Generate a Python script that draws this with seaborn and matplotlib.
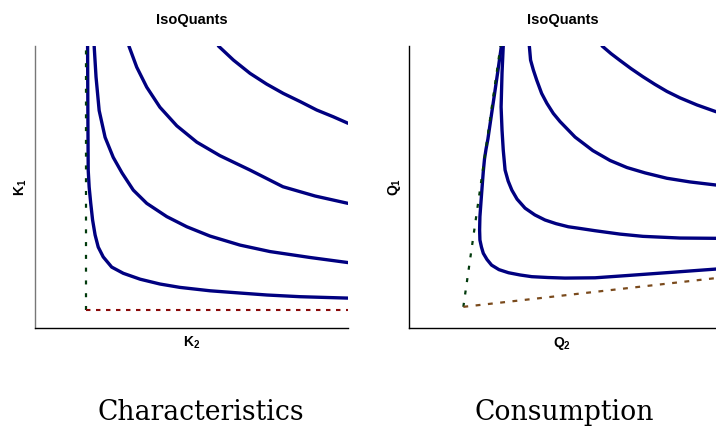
"""
IsoQuants: characteristics space vs consumption space
"""

import matplotlib
matplotlib.use("Agg")
import matplotlib.pyplot as plt
import seaborn as sns


# characteristics panel (K2 on x, K1 on y), axes run 0..10
char_a_x = [1.68, 1.69, 1.70, 1.73, 1.78, 1.84, 1.92, 2.02, 2.18, 2.45, 2.82, 3.36, 3.99,
            4.63, 5.59, 6.55, 7.41, 8.47, 10.0]
char_a_y = [10.0, 7.38, 5.60, 5.00, 4.43, 3.83, 3.30, 2.87, 2.52, 2.16, 1.94, 1.73, 1.56,
            1.44, 1.32, 1.24, 1.17, 1.11, 1.06]
char_b_x = [1.89, 1.95, 2.05, 2.24, 2.50, 2.78, 3.14, 3.57, 4.21, 4.85, 5.59, 6.55, 7.51, 8.79, 10.0]
char_b_y = [10.0, 8.90, 7.71, 6.76, 6.05, 5.50, 4.89, 4.42, 3.95, 3.59, 3.26, 2.94, 2.71, 2.50, 2.32]
char_c_x = [3.00, 3.25, 3.57, 3.99, 4.53, 5.17, 5.91, 6.87, 7.92, 8.95, 10.0]
char_c_y = [10.0, 9.25, 8.54, 7.83, 7.17, 6.59, 6.11, 5.60, 5.01, 4.68, 4.42]
char_d_x = [5.86, 6.34, 6.87, 7.40, 7.93, 8.47, 9.00, 9.53, 10.0]
char_d_y = [10.0, 9.50, 9.03, 8.65, 8.32, 8.03, 7.73, 7.49, 7.26]
char_vert_x = [1.63, 1.63]
char_vert_y = [0.64, 10.0]
char_horiz_x = [1.63, 10.0]
char_horiz_y = [0.64, 0.64]

# consumption panel (Q2 on x, Q1 on y)
cons_a_x = [3.01, 2.90, 2.79, 2.68, 2.57, 2.51, 2.46, 2.42, 2.39, 2.35, 2.31, 2.30, 2.31,
            2.36, 2.42, 2.54, 2.69, 2.93, 3.24, 3.62, 4.00, 4.53, 5.08, 6.06, 7.10, 8.50, 10.0]
cons_a_y = [10.0, 9.15, 8.33, 7.52, 6.70, 6.35, 6.00, 5.55, 5.13, 4.55, 3.95, 3.48, 3.12,
            2.87, 2.65, 2.43, 2.23, 2.07, 1.96, 1.88, 1.82, 1.79, 1.77, 1.78, 1.86, 1.97, 2.09]
cons_b_x = [3.07, 3.03, 3.00, 3.03, 3.07, 3.13, 3.23, 3.35, 3.52, 3.78, 4.10, 4.43, 4.79,
            5.19, 5.57, 6.06, 6.87, 7.62, 8.83, 10.0]
cons_b_y = [10.0, 9.04, 7.84, 7.02, 6.31, 5.60, 5.21, 4.89, 4.57, 4.25, 4.01, 3.83, 3.70,
            3.59, 3.53, 3.45, 3.33, 3.25, 3.19, 3.18]
cons_c_x = [3.92, 3.96, 4.05, 4.16, 4.32, 4.49, 4.70, 4.92, 5.41, 5.99, 6.55, 7.10, 7.69,
            8.40, 9.15, 10.0]
cons_c_y = [10.0, 9.50, 9.15, 8.79, 8.32, 7.97, 7.61, 7.32, 6.77, 6.29, 5.94, 5.69, 5.50,
            5.31, 5.18, 5.07]
cons_d_x = [6.29, 6.58, 6.87, 7.23, 7.62, 8.01, 8.40, 8.83, 9.38, 10.0]
cons_d_y = [10.0, 9.73, 9.49, 9.20, 8.91, 8.64, 8.39, 8.16, 7.91, 7.67]
cons_ray1_x = [1.77, 2.98]
cons_ray1_y = [0.75, 10.0]
cons_ray2_x = [1.77, 10.0]
cons_ray2_y = [0.75, 1.77]

navy = "#000080"

sns.set_style("white")
plt.rcParams["font.family"] = ["Liberation Sans", "DejaVu Sans"]
plt.rcParams["text.color"] = "black"
plt.rcParams["axes.labelcolor"] = "black"
plt.rcParams["mathtext.fontset"] = "custom"
plt.rcParams["mathtext.bf"] = "Liberation Sans:bold"
plt.rcParams["mathtext.rm"] = "Liberation Sans"
plt.rcParams["lines.scale_dashes"] = False

fig = plt.figure(figsize=(7.16, 4.28), dpi=100)
ax1 = fig.add_axes([35 / 716, 100 / 428, 313 / 716, 282 / 428])
ax2 = fig.add_axes([409 / 716, 100 / 428, 307 / 716, 282 / 428])

for xs, ys in [(char_a_x, char_a_y), (char_b_x, char_b_y), (char_c_x, char_c_y), (char_d_x, char_d_y)]:
    sns.lineplot(x=xs, y=ys, ax=ax1, color=navy, lw=2.4, sort=False, estimator=None)
sns.lineplot(x=char_vert_x, y=char_vert_y, ax=ax1, color="#013a0c", lw=1.6,
             linestyle=(0, (2.9, 6.3)), sort=False, estimator=None)
sns.lineplot(x=char_horiz_x, y=char_horiz_y, ax=ax1, color="#8b0a0a", lw=1.5,
             linestyle=(0, (3.2, 4.0)), sort=False, estimator=None)

for xs, ys in [(cons_a_x, cons_a_y), (cons_b_x, cons_b_y), (cons_c_x, cons_c_y), (cons_d_x, cons_d_y)]:
    sns.lineplot(x=xs, y=ys, ax=ax2, color=navy, lw=2.4, sort=False, estimator=None)
sns.lineplot(x=cons_ray1_x, y=cons_ray1_y, ax=ax2, color="#013a0c", lw=1.6,
             linestyle=(0, (2.9, 6.1)), sort=False, estimator=None)
sns.lineplot(x=cons_ray2_x, y=cons_ray2_y, ax=ax2, color="#7a4a1c", lw=1.6,
             linestyle=(0, (3.5, 5.4)), sort=False, estimator=None)

for ax, xl, yl in [(ax1, r"$\mathbf{K_2}$", r"$\mathbf{K_1}$"), (ax2, r"$\mathbf{Q_2}$", r"$\mathbf{Q_1}$")]:
    ax.set_xlim(0, 10)
    ax.set_ylim(0, 10)
    ax.set_xticks([])
    ax.set_yticks([])
    ax.set_xlabel(xl, fontsize=10, labelpad=5)
    ax.set_ylabel(yl, fontsize=10, labelpad=4)
    ax.set_title("IsoQuants", fontsize=10.5, fontweight="bold", pad=16)
    for side in ["top", "right"]:
        ax.spines[side].set_visible(False)
    for side in ["left", "bottom"]:
        ax.spines[side].set_color("black")
        ax.spines[side].set_linewidth(1.0)
ax1.spines["left"].set_color("#777777")

fig.text(201 / 716, 1 - 420 / 428, "Characteristics", family="DejaVu Serif",
         fontsize=19.2, ha="center", va="baseline")
fig.text(564 / 716, 1 - 420 / 428, "Consumption", family="DejaVu Serif",
         fontsize=19.2, ha="center", va="baseline")

fig.savefig("out.png", dpi=100)
